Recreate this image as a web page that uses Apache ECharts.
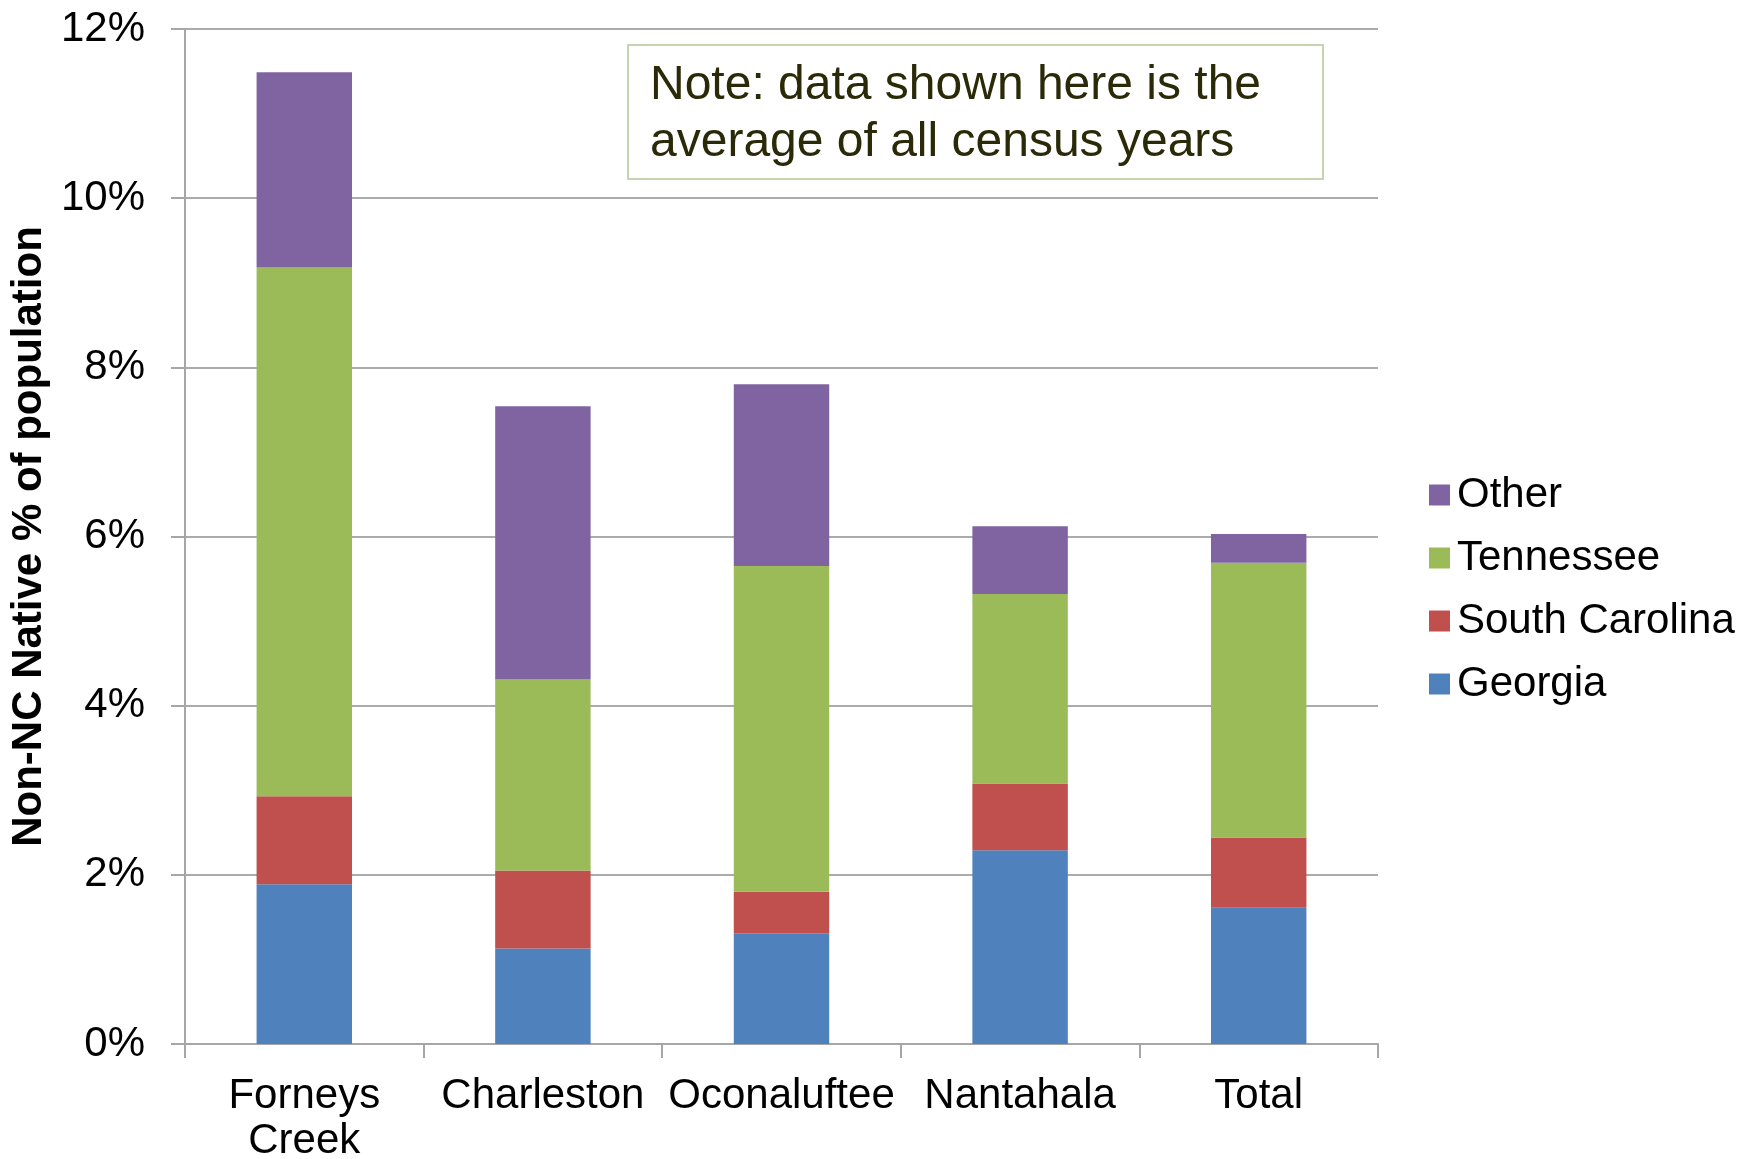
<!DOCTYPE html>
<html>
<head>
<meta charset="utf-8">
<script src="https://cdn.jsdelivr.net/npm/echarts@6/dist/echarts.min.js"></script>
<style>
  html, body { margin: 0; padding: 0; background: #fff; }
  #chart { width: 1756px; height: 1159px; }
</style>
</head>
<body>
<div id="chart"></div>
<script>
// categories and stacked shares (% of population)
const categories = ['Forneys\nCreek', 'Charleston', 'Oconaluftee', 'Nantahala', 'Total']
const georgia = [1.89, 1.13, 1.31, 2.29, 1.61]
const southCarolina = [1.04, 0.92, 0.49, 0.79, 0.83]
const tennessee = [6.25, 2.26, 3.85, 2.24, 3.25]
const other = [2.31, 3.23, 2.15, 0.80, 0.34]
const yTicks = [0, 2, 4, 6, 8, 10, 12]

const font = "'Liberation Sans', Arial, sans-serif"

const chart = echarts.init(document.getElementById('chart'))

function bar(name, data, color) {
  return {
    name: name,
    type: 'bar',
    stack: 'all',
    barCategoryGap: '60%',
    itemStyle: { color: color },
    data: data
  }
}

const option = {
  animation: false,
  backgroundColor: '#fff',
  grid: { left: 185, right: 378, top: 29, bottom: 115, containLabel: false, outerBoundsMode: 'none' },
  legend: {
    orient: 'vertical',
    left: 1424,
    top: 469,
    itemWidth: 21,
    itemHeight: 21,
    itemGap: 21,
    icon: 'rect',
    data: ['Other', 'Tennessee', 'South Carolina', 'Georgia'],
    textStyle: { fontFamily: font, fontSize: 42, color: '#000', lineHeight: 42, padding: [0, 0, 0, 2] }
  },
  xAxis: {
    type: 'category',
    data: categories,
    axisLine: { lineStyle: { color: '#a6a6a6', width: 2 } },
    axisTick: { show: true, length: 14, lineStyle: { color: '#a6a6a6', width: 2 } },
    axisLabel: { fontFamily: font, fontSize: 42, color: '#000', lineHeight: 45, margin: 30, interval: 0 }
  },
  yAxis: {
    type: 'value',
    min: yTicks[0],
    max: yTicks[yTicks.length - 1],
    interval: 2,
    name: 'Non-NC Native % of population',
    nameLocation: 'middle',
    nameGap: 133,
    nameTextStyle: { fontFamily: font, fontSize: 42, fontWeight: 'bold', color: '#000' },
    axisLine: { show: true, lineStyle: { color: '#a6a6a6', width: 2 } },
    axisTick: { show: true, length: 14, lineStyle: { color: '#a6a6a6', width: 2 } },
    axisLabel: { fontFamily: font, fontSize: 42, color: '#000', margin: 40, formatter: v => v + '%' },
    splitLine: { lineStyle: { color: '#ababab', width: 2 } }
  },
  series: [
    bar('Georgia', georgia, '#4f81bd'),
    bar('South Carolina', southCarolina, '#c0504d'),
    bar('Tennessee', tennessee, '#9bbb59'),
    bar('Other', other, '#8064a2')
  ],
  graphic: [
    {
      type: 'rect',
      shape: { x: 628, y: 45, width: 695, height: 134 },
      style: { fill: '#fff', stroke: '#c4d3b0', lineWidth: 2 },
      z: 100
    },
    {
      type: 'text',
      x: 650,
      y: 57,
      style: {
        text: 'Note: data shown here is the\naverage of all census years',
        font: '48px ' + font,
        fill: '#2a2a08',
        lineHeight: 57,
        verticalAlign: 'top'
      },
      z: 101
    }
  ]
}

chart.setOption(option)
</script>
</body>
</html>
